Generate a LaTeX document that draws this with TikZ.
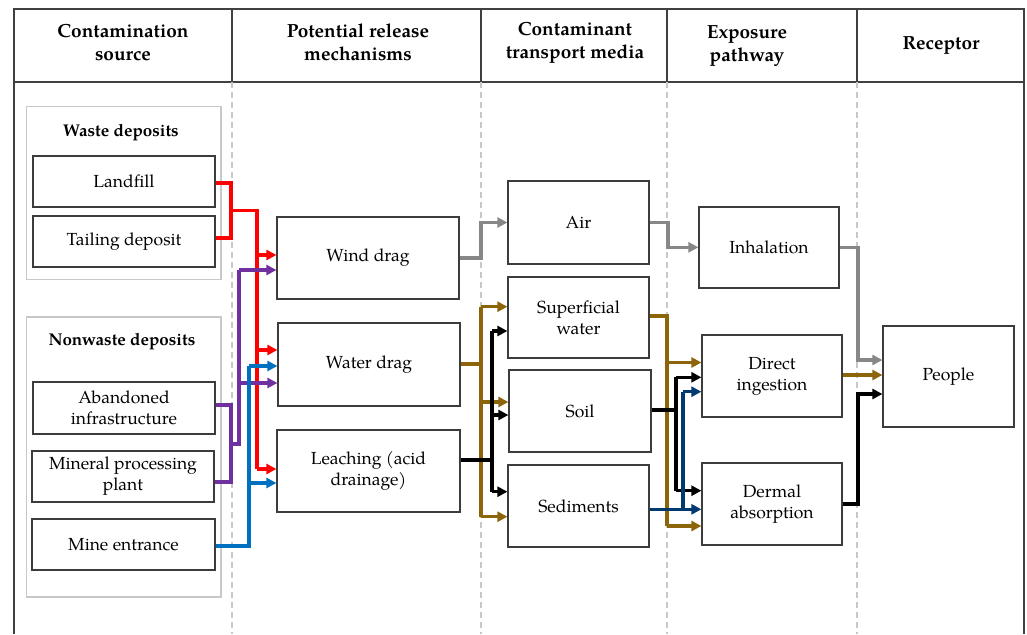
\documentclass[tikz,border=0pt]{standalone}
\usepackage{fontspec}
\setmainfont{TeX Gyre Pagella}
\usetikzlibrary{arrows.meta}
\definecolor{frameC}{RGB}{64,64,64}
\definecolor{boxC}{RGB}{60,60,60}
\definecolor{grpC}{RGB}{200,200,200}
\definecolor{dashC}{RGB}{200,200,200}
\definecolor{redC}{RGB}{255,0,0}
\definecolor{purC}{RGB}{112,48,160}
\definecolor{bluC}{RGB}{0,112,192}
\definecolor{brnC}{RGB}{140,100,10}
\definecolor{navC}{RGB}{0,58,112}
\definecolor{gryC}{RGB}{135,135,135}
\tikzset{
  box/.style={draw=boxC, line width=1.2pt, fill=white, align=center, inner sep=2pt,
    font=\fontsize{17.5}{21}\selectfont},
  grp/.style={draw=grpC, line width=1.2pt},
  hdr/.style={align=center, font=\fontsize{19}{23}\selectfont\bfseries},
  gtitle/.style={font=\fontsize{17}{20}\selectfont\bfseries},
  conn/.style={line width=3.2pt},
  arr/.style={line width=3.2pt, -{Triangle[length=10pt,width=10pt]}},
  divdash/.style={draw=dashC, line width=1.1pt, dash pattern=on 6pt off 4pt},
}
\begin{document}
\begin{tikzpicture}[x=1pt,y=-1pt]
\fill[white] (0,0) rectangle (1027,634);
\useasboundingbox (0,0) rectangle (1027,634);
% frame
\draw[frameC, line width=1.2pt] (14,634) -- (14,9) -- (1024,9) -- (1024,634);
\draw[frameC, line width=1.2pt] (14,82) -- (1024,82);
\foreach \x in {232,481,667,857} {
  \draw[frameC, line width=1.2pt] (\x,9) -- (\x,82);
  \draw[divdash] (\x,82) -- (\x,634);
}
% headers
\node[hdr] (h1) at (123,42.5) {Contamination\\source};
\node[hdr] (h2) at (358,42.5) {Potential release\\mechanisms};
\node[hdr] (h3) at (575,42.5) {Contaminant\\transport media};
\node[hdr] (h4) at (747,46) {Exposure\\pathway};
\node[hdr] (h5) at (941,45.5) {Receptor};
% groups
\draw[grp] (26.7,106.5) rectangle (221,279.6);
\draw[grp] (26.7,317) rectangle (221,597);
\node[gtitle] (wt) at (121,132.4) {Waste deposits};
\node[gtitle] (nt) at (122,341.7) {Nonwaste deposits};
% source boxes
\node[box, minimum width=182pt, minimum height=51pt] (landfill) at (124,181.5) {Landfill};
\node[box, minimum width=182pt, minimum height=51pt] (tail) at (124,241.5) {Tailing deposit};
\node[box, minimum width=182pt, minimum height=52pt] (aband) at (124,408) {Abandoned\\infrastructure};
\node[box, minimum width=182pt, minimum height=51pt] (mineral) at (123,476.5) {Mineral processing\\plant};
\node[box, minimum width=183pt, minimum height=51pt] (mine) at (123.5,544.5) {Mine entrance};
% mechanisms
\node[box, minimum width=182pt, minimum height=82pt] (wind) at (368,258) {Wind drag};
\node[box, minimum width=182pt, minimum height=83pt] (water) at (369,364.5) {Water drag};
\node[box, minimum width=183pt, minimum height=82pt] (leach) at (368.5,471) {Leaching (acid\\drainage)};
% media
\node[box, minimum width=141pt, minimum height=83pt] (air) at (578.5,222.5) {Air};
\node[box, minimum width=141pt, minimum height=81pt] (superf) at (578.5,317.5) {Superficial\\water};
\node[box, minimum width=142pt, minimum height=82pt] (soil) at (580,411) {Soil};
\node[box, minimum width=141pt, minimum height=82pt] (sed) at (578.5,506) {Sediments};
% exposure
\node[box, minimum width=140pt, minimum height=81pt] (inhal) at (769,247.5) {Inhalation};
\node[box, minimum width=140pt, minimum height=82pt] (direct) at (772,376) {Direct\\ingestion};
\node[box, minimum width=140pt, minimum height=82pt] (dermal) at (772,504) {Dermal\\absorption};
% receptor
\node[box, minimum width=131pt, minimum height=101pt] (people) at (948.5,376.5) {People};

% ---- red
\coordinate (rj) at (231,210.7);
\coordinate (rt) at (257,210.7);
\draw[conn, redC] (landfill.east |- 0,183) -- (231,183) -- (231,238) -- (tail.east |- 0,238);
\draw[conn, redC] (rj) -- (rt) -- (257,469);
\draw[arr, redC] (257,255) -- (wind.west |- 0,255);
\draw[arr, redC] (257,350) -- (water.west |- 0,350);
\draw[arr, redC] (257,469) -- (leach.west |- 0,469);
% ---- purple
\coordinate (pj) at (231,444);
\draw[conn, purC] (aband.east |- 0,405) -- (231,405) -- (231,482) -- (mineral.east |- 0,482);
\draw[conn, purC] (pj) -- (239,444) -- (239,270);
\draw[arr, purC] (239,270) -- (wind.west |- 0,270);
\draw[arr, purC] (239,383) -- (water.west |- 0,383);
% ---- blue
\draw[conn, bluC] (mine.east |- 0,546) -- (249,546) -- (249,366);
\draw[arr, bluC] (249,366) -- (water.west |- 0,366);
\draw[arr, bluC] (249,483) -- (leach.west |- 0,483);
% ---- gray wind -> air
\draw[arr, gryC] (wind.east |- 0,258) -- (481,258) -- (481,222.5) -- (air.west |- 0,222.5);
% ---- brown water drag
\draw[conn, brnC] (water.east |- 0,364) -- (481,364);
\draw[conn, brnC] (481,306.7) -- (481,516.7);
\draw[arr, brnC] (481,306.7) -- (superf.west |- 0,306.7);
\draw[arr, brnC] (481,402) -- (soil.west |- 0,402);
\draw[arr, brnC] (481,516.7) -- (sed.west |- 0,516.7);
% ---- black leaching
\draw[conn, black] (leach.east |- 0,460) -- (492,460);
\draw[conn, black] (492,331) -- (492,491.7);
\draw[arr, black] (492,331) -- (superf.west |- 0,331);
\draw[arr, black] (492,415) -- (soil.west |- 0,415);
\draw[arr, black] (492,491.7) -- (sed.west |- 0,491.7);
% ---- gray air -> inhalation
\draw[arr, gryC] (air.east |- 0,222.5) -- (668,222.5) -- (668,247.3) -- (inhal.west |- 0,247.3);
% ---- brown superficial water
\draw[conn, brnC] (superf.east |- 0,316) -- (667,316) -- (667,526);
\draw[arr, brnC] (667,362.5) -- (direct.west |- 0,362.5);
\draw[arr, brnC] (667,526) -- (dermal.west |- 0,526);
% ---- black soil
\draw[conn, black] (soil.east |- 0,410) -- (676,410);
\draw[conn, black] (676,377.3) -- (676,490.7);
\draw[arr, black] (676,377.3) -- (direct.west |- 0,377.3);
\draw[arr, black] (676,490.7) -- (dermal.west |- 0,490.7);
% ---- navy sediments
\draw[arr, navC] (sed.east |- 0,509.3) -- (dermal.west |- 0,509.3);
\draw[conn, navC] (683,509.3) -- (683,391.7);
\draw[arr, navC] (683,391.7) -- (direct.west |- 0,391.7);
% ---- to people
\draw[arr, gryC] (inhal.east |- 0,247.3) -- (858,247.3) -- (858,360) -- (people.west |- 0,360);
\draw[arr, brnC] (direct.east |- 0,375) -- (people.west |- 0,375);
\draw[arr, black] (dermal.east |- 0,504) -- (858,504) -- (858,394) -- (people.west |- 0,394);
\end{tikzpicture}
\end{document}
